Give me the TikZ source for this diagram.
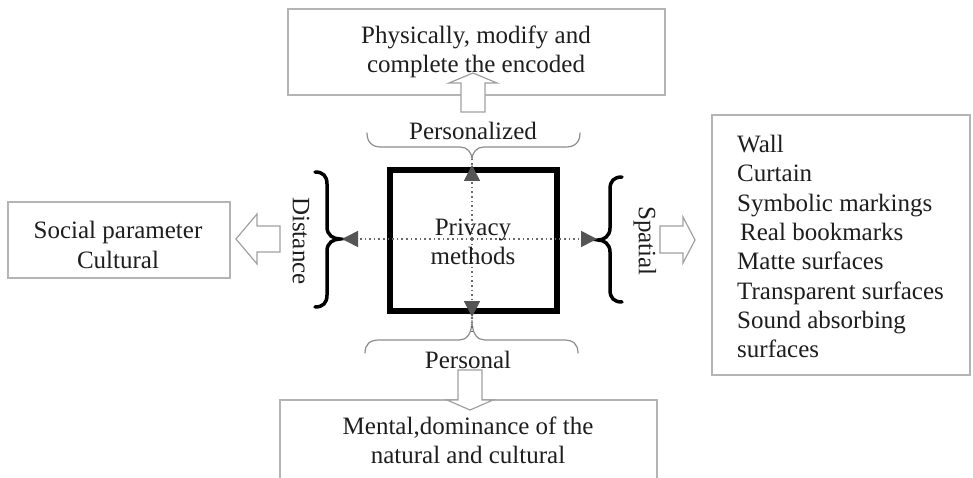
\documentclass[tikz,border=0pt]{standalone}
\usepackage{fontspec}
\setmainfont{Liberation Serif}
\usetikzlibrary{arrows.meta}
\definecolor{txtc}{HTML}{1E1E1E}
\definecolor{boxc}{HTML}{B4B4B4}
\definecolor{harrc}{HTML}{A0A0A0}
\definecolor{thinbr}{HTML}{8C8C8C}
\definecolor{dotc}{HTML}{6A6A6A}
\definecolor{headc}{HTML}{555555}
\tikzset{
  lbl/.style={font=\fontsize{25}{29.3}\selectfont, text=txtc, inner sep=0pt, align=center},
  box/.style={draw=boxc, line width=1.5pt, fill=white, inner sep=0pt},
  hollow/.style={draw=harrc, line width=1.2pt, fill=white, line join=miter},
  thinbrace/.style={draw=thinbr, line width=1.2pt, line cap=round},
  boldbrace/.style={draw=black, line width=3.5pt, line cap=round},
  dotline/.style={draw=dotc, line width=1.6pt, dash pattern=on 1.6pt off 3pt},
  dotarrow/.style={dotline, -{Triangle[length=16pt,width=16pt,fill=headc,color=headc]}},
}
\begin{document}
\begin{tikzpicture}[x=1pt,y=-1pt]
\useasboundingbox (0,0) rectangle (973,478);
% boxes
\node[box, minimum width=377pt, minimum height=86pt] (topbox) at (476.5,52) {};
\node[box, minimum width=222pt, minimum height=76pt] (leftbox) at (119,240) {};
\node[box, minimum width=258pt, minimum height=260pt] (rightbox) at (841,245) {};
\draw[draw=boxc, line width=1.5pt] (280,484) -- (280,400) -- (657,400) -- (657,484);
% central square
\node[draw=black, line width=6pt, minimum width=167pt, minimum height=141pt, inner sep=0pt] (sq) at (473.5,240.5) {};
% bold braces
\draw[boldbrace] (315,172) .. controls (323,172) and (327,176) .. (327,184) -- (327,227)
  .. controls (327,235) and (333,239) .. (340,239) .. controls (333,239) and (327,243) .. (327,251)
  -- (327,295) .. controls (327,303) and (323,307) .. (315,307);
\draw[boldbrace] (622,177) .. controls (614,177) and (610,181) .. (610,189) -- (610,228)
  .. controls (610,236) and (604,240) .. (598,240) .. controls (604,240) and (610,244) .. (610,252)
  -- (610,290) .. controls (610,298) and (614,302) .. (622,302);
% thin braces
\draw[thinbrace] (367,133) .. controls (367,142) and (372,147) .. (381,147) -- (460,147)
  .. controls (467,147) and (472,152) .. (472,160) .. controls (472,152) and (477,147) .. (484,147)
  -- (566,147) .. controls (575,147) and (580,142) .. (580,133);
\draw[thinbrace] (365,353) .. controls (365,344) and (370,340) .. (379,340) -- (459,340)
  .. controls (466,340) and (472,335) .. (472,320) .. controls (472,335) and (478,340) .. (485,340)
  -- (564,340) .. controls (573,340) and (578,344) .. (578,353);
% dotted arrows
\coordinate (c) at (472,239);
\coordinate (tipL) at (342,239);
\coordinate (tipR) at (597,239);
\coordinate (tipT) at (472,165);
\coordinate (tipB) at (472,317);
\coordinate (extT) at (472,158);
\coordinate (extB) at (472,331);
\draw[dotarrow] (c) -- (tipL);
\draw[dotarrow] (c) -- (tipR);
\draw[dotarrow] (c) -- (tipT);
\draw[dotarrow] (c) -- (tipB);
\draw[dotline] (tipT) -- (extT);
\draw[dotline] (tipB) -- (extB);
% hollow arrows
\draw[hollow] (461,112) -- (461,83) -- (449,83) -- (473,73) -- (497,83) -- (485,83) -- (485,112) -- cycle;
\draw[hollow] (458,370) -- (458,400) -- (447,400) -- (470,410) -- (493,400) -- (482,400) -- (482,370) -- cycle;
\draw[hollow] (280,226) -- (257,226) -- (257,214) -- (236,239) -- (257,264) -- (257,252) -- (280,252) -- cycle;
\draw[hollow] (660,226) -- (683,226) -- (683,217) -- (695,240) -- (683,263) -- (683,253) -- (660,253) -- cycle;
% texts
\node[lbl] (toptext) at (476,52) {Physically, modify and\\complete the encoded};
\node[lbl] (lefttext) at (118,245) {Social parameter\\Cultural};
\node[lbl] (sqtext) at (473,242) {Privacy\\methods};
\node[lbl] (bottext) at (468,440) {Mental,dominance of the\\natural and cultural};
\node[lbl, anchor=base] (pzd) at (473,140) {Personalized};
\node[lbl, anchor=base] (pl) at (468,368) {Personal};
\node[lbl, rotate=-90] (dist) at (301,241) {Distance};
\node[lbl, rotate=-90] (spat) at (645,241) {Spatial};
\node[lbl, align=left, anchor=north west] (list) at (737,135) {Wall\\Curtain\\Symbolic markings\\\hspace{3pt}Real bookmarks\\Matte surfaces\\Transparent surfaces\\Sound absorbing\\surfaces};
\end{tikzpicture}
\end{document}
